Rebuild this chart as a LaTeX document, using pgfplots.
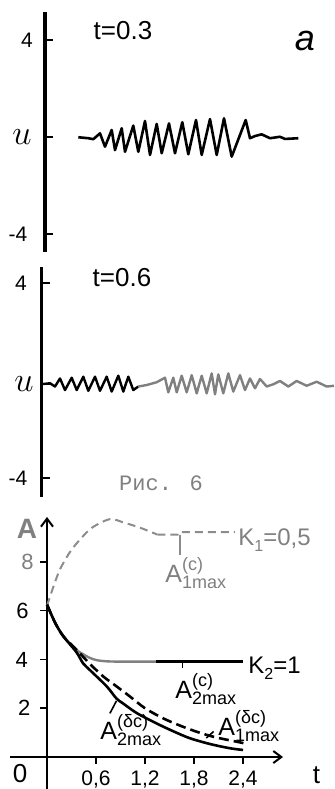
\documentclass[border=0pt]{standalone}
\usepackage{fontspec}
\setmainfont{Liberation Sans}
\newfontfamily\typew{Liberation Mono}
\usepackage{pgfplots}
\pgfplotsset{compat=1.18}
\usetikzlibrary{arrows.meta}
\definecolor{g1}{gray}{0.5}
\definecolor{g2}{gray}{0.55}
\newcommand\Alab[3]{A\makebox[0pt][l]{\raisebox{6pt}{\fontsize{9}{10}\selectfont #2}}\raisebox{-3pt}{\fontsize{9}{10}\selectfont #3}}
\begin{document}
\begin{tikzpicture}[x=1pt,y=1pt]
\useasboundingbox (0,0) rectangle (167,394.5);
% ---------------- panel 1 (t = 0.3)
\begin{axis}[at={(22.5pt,268.5pt)}, anchor=south west, scale only axis,
  width=144.5pt, height=120pt, xmin=45, xmax=334, ymin=-4.742, ymax=5.155,
  axis x line=none, axis y line=left, axis line style={-, line width=1.6pt},
  ytick={-4,0,4}, yticklabels={,,},
  tick align=inside, major tick length=4pt, tick style={line width=0.8pt, black},
  clip=false]
\addplot[black, line width=1.3pt, line join=round] coordinates {
(78.3,-0.01)(88.3,-0.05)(93.3,-0.09)(100,0.15)(105,-0.40)(111.7,0.29)(115,-0.54)
(121.7,0.36)(125,-0.61)(133.3,0.47)(138.3,-0.61)(145,0.66)(150,-0.74)(156.7,0.54)
(161.7,-0.67)(169,0.56)(175,-0.67)(182.3,0.61)(188.3,-0.71)(196,0.70)(201.7,-0.74)
(210,0.74)(216.7,-0.74)(224,0.77)(231.7,-0.81)(245.7,0.70)(250,-0.05)(255,0.04)
(261.7,0.11)(270,-0.05)(280,0.01)(285,-0.08)(298.3,-0.05)};
\node[font=\fontsize{10.5}{12}\selectfont] at (axis cs:27,4) {4};
\node[font=\fontsize{17}{18}\selectfont] at (axis cs:22,0) {$u$};
\node[font=\fontsize{10.5}{12}\selectfont] at (axis cs:18,-4) {-4};
\node[font=\fontsize{13}{14}\selectfont] at (axis cs:123,4.37) {t=0.3};
\node[font=\fontsize{18}{20}\selectfont\itshape] at (axis cs:305,3.96) {a};
\end{axis}
% ---------------- panel 2 (t = 0.6)
\begin{axis}[at={(20.85pt,146pt)}, anchor=south west, scale only axis,
  width=146.15pt, height=115pt, xmin=41.7, xmax=334, ymin=-4.475, ymax=4.634,
  axis x line=none, axis y line=left, axis line style={-, line width=1.6pt},
  ytick={-3.72,0,4}, yticklabels={,,},
  tick align=inside, major tick length=4pt, tick style={line width=0.8pt, black},
  clip=false]
\addplot[black, line width=1.2pt, line join=round] coordinates {
(43.3,0)(50,0.03)(55,-0.10)(60,0.22)(65,-0.24)(71.7,0.25)(76.7,-0.24)(83.3,0.29)
(88.3,-0.27)(95,0.29)(100,-0.27)(106.7,0.29)(111.7,-0.30)(118.3,0.33)(123.3,-0.30)
(128.3,0.29)(133.3,-0.24)(138.3,-0.10)};
\addplot[g1, line width=1.2pt, line join=round] coordinates {
(138.3,-0.10)(146.7,-0.04)(156.7,0.07)(165,0.25)(168.3,-0.33)(173.3,0.25)(176.7,-0.33)
(181.7,0.33)(186.7,-0.33)(191.7,0.35)(196.7,-0.37)(201.7,0.33)(206.7,-0.37)
(211.7,0.42)(215,-0.41)(218.3,0.38)(223.3,-0.37)(228.3,0.42)(233.3,-0.30)(240,0.35)
(245,-0.24)(250,0.22)(255,-0.17)(260,0.20)(266.7,-0.10)(273.3,-0.01)(280,0.12)
(288.3,-0.10)(296.7,0.12)(306.7,-0.07)(316.7,0.09)(326.7,-0.10)(334,-0.07)};
\node[font=\fontsize{10.5}{12}\selectfont] at (axis cs:21,4) {4};
\node[font=\fontsize{17}{18}\selectfont] at (axis cs:24,0) {$u$};
\node[font=\fontsize{10.5}{12}\selectfont] at (axis cs:18,-3.72) {-4};
\node[font=\fontsize{13}{14}\selectfont] at (axis cs:122,4.2) {t=0.6};
\end{axis}
\node[g1, font=\typew\fontsize{11}{12}\selectfont] at (80.5,153) {Рис. 6};
% ---------------- panel 3 (A vs t)
\begin{axis}[at={(5pt,0pt)}, anchor=south west, scale only axis,
  width=136.5pt, height=136pt, xmin=-0.453, xmax=2.889, ymin=-1.31, ymax=9.84,
  axis lines=middle,
  axis line style={line width=1pt, -{Straight Barb[length=4pt,width=6pt]}},
  xtick={0.6,1.2,1.8,2.4}, xticklabels={,,,},
  ytick={2,4,6,8}, yticklabels={,,,},
  tick align=outside, major tick length=3.5pt, tick style={line width=0.8pt, black},
  clip=false]
% A1max^(c), K1=0.5 (grey dashed)
\addplot[g2, line width=1pt, dash pattern=on 4pt off 2.5pt, smooth, tension=0.5] coordinates {
(0,6.2)(0.08,7.0)(0.16,7.7)(0.28,8.4)(0.4,8.9)(0.55,9.4)(0.77,9.75)(0.95,9.6)
(1.14,9.4)(1.35,9.12)};
\addplot[g2, line width=1pt, dash pattern=on 4pt off 2.5pt] coordinates {
(1.35,9.12)(1.6,9.12)(1.62,9.22)(2.3,9.22)};
\addplot[g2, line width=0.8pt] coordinates {(1.63,9.12)(1.63,8.28)};
% A2max^(c), K2=1 (grey solid)
\addplot[g1, line width=1.2pt, smooth, tension=0.5] coordinates {
(0,6.25)(0.1,5.5)(0.2,4.95)(0.36,4.4)(0.44,4.22)(0.52,4.07)(0.61,3.97)(0.75,3.92)
(1.0,3.91)(1.34,3.91)};
\addplot[black, line width=1.2pt] coordinates {(1.34,3.91)(2.4,3.91)};
\addplot[black, line width=0.8pt] coordinates {(1.66,3.91)(1.66,3.64)};
% A1max^(delta c) (black dashed)
\addplot[black, line width=1.3pt, dash pattern=on 5pt off 2.5pt, smooth, tension=0.5] coordinates {
(0,6.25)(0.1,5.5)(0.2,4.95)(0.36,4.4)(0.53,3.8)(0.69,3.3)(0.85,2.9)(1.02,2.47)
(1.2,2.0)(1.42,1.59)(1.62,1.3)(1.83,1.04)(2.05,0.82)(2.32,0.63)(2.42,0.56)};
% A2max^(delta c) (black solid)
\addplot[black, line width=1.3pt, smooth, tension=0.5] coordinates {
(0,6.25)(0.1,5.5)(0.2,4.95)(0.36,4.3)(0.44,3.85)(0.53,3.55)(0.73,2.9)(0.85,2.4)
(0.93,2.2)(1.1,1.8)(1.34,1.38)(1.55,1.05)(1.75,0.77)(2.0,0.53)(2.24,0.36)(2.4,0.29)};
\addplot[black, line width=0.8pt] coordinates {(0.77,1.79)(0.85,2.3)};
\addplot[black, line width=0.8pt] coordinates {(1.95,0.78)(2.04,1.05)};
% tick labels
\node[font=\fontsize{11}{12}\selectfont] at (axis cs:-0.28,2) {2};
\node[font=\fontsize{11}{12}\selectfont] at (axis cs:-0.31,4) {4};
\node[font=\fontsize{11}{12}\selectfont] at (axis cs:-0.30,6) {6};
\node[g1, font=\fontsize{11}{12}\selectfont] at (axis cs:-0.24,8) {8};
\node[font=\fontsize{10.5}{12}\selectfont] at (axis cs:0.6,-0.94) {0,6};
\node[font=\fontsize{10.5}{12}\selectfont] at (axis cs:1.2,-0.94) {1,2};
\node[font=\fontsize{10.5}{12}\selectfont] at (axis cs:1.8,-0.94) {1,8};
\node[font=\fontsize{10.5}{12}\selectfont] at (axis cs:2.4,-0.94) {2,4};
% labels
\node[g1, font=\bfseries\fontsize{14}{16}\selectfont] at (axis cs:-0.245,9.35) {A};
\node[font=\fontsize{13}{14}\selectfont] at (axis cs:-0.33,-0.66) {0};
\node[font=\fontsize{13}{14}\selectfont] at (axis cs:3.30,-0.74) {t};
\node[g1, anchor=base west, inner sep=0pt, font=\fontsize{12.5}{14}\selectfont] at (axis cs:1.444,7.17) {\Alab{A}{(c)}{1max}};
\node[g1, anchor=base west, inner sep=0pt, font=\fontsize{12}{14}\selectfont] at (axis cs:2.338,8.69) {K\raisebox{-3pt}{\fontsize{8}{9}\selectfont 1}=0,5};
\node[anchor=base west, inner sep=0pt, font=\fontsize{12.5}{14}\selectfont] at (axis cs:1.567,2.42) {\Alab{A}{(c)}{2max}};
\node[anchor=base west, inner sep=0pt, font=\fontsize{12}{14}\selectfont] at (axis cs:2.46,3.44) {K\raisebox{-3pt}{\fontsize{8}{9}\selectfont 2}=1};
\node[anchor=base west, inner sep=0pt, font=\fontsize{12.5}{14}\selectfont] at (axis cs:0.649,0.70) {\Alab{A}{(δc)}{2max}};
\node[anchor=base west, inner sep=0pt, font=\fontsize{12.5}{14}\selectfont] at (axis cs:2.093,0.90) {\Alab{A}{(δc)}{1max}};
\end{axis}
\end{tikzpicture}
\end{document}
